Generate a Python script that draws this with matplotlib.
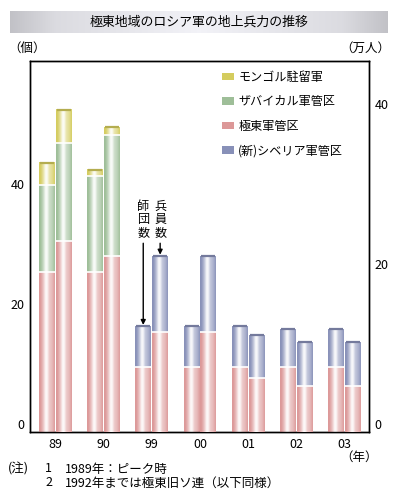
import numpy as np
import matplotlib
matplotlib.use("Agg")
import matplotlib.pyplot as plt
import matplotlib.colors as mcolors
from matplotlib.patches import Patch
from matplotlib.transforms import ScaledTranslation, blended_transform_factory

plt.rcParams['font.family'] = ['Noto Sans CJK JP', 'DejaVu Sans']

# data
years = ['89', '90', '99', '00', '01', '02', '03']
# divisions (個), left axis
div_far_east = [26.6, 26.6, 10.9, 10.9, 10.9, 10.9, 10.9]
div_zabaikal = [14.5, 16.0, 0, 0, 0, 0, 0]
div_siberia = [0, 0, 6.7, 6.7, 6.7, 6.3, 6.3]
div_mongol = [3.7, 1.1, 0, 0, 0, 0, 0]
# troops (万人), right axis
tr_far_east = [23.9, 22.0, 12.5, 12.5, 6.8, 5.8, 5.8]
tr_zabaikal = [12.2, 15.1, 0, 0, 0, 0, 0]
tr_siberia = [0, 0, 9.5, 9.5, 5.3, 5.4, 5.4]
tr_mongol = [4.2, 1.0, 0, 0, 0, 0, 0]

labels = ['モンゴル駐留軍', 'ザバイカル軍管区', '極東軍管区', '(新)シベリア軍管区']
c_mongol = '#d4cc5e'
c_zabaikal = '#9ebe98'
c_far_east = '#dc9898'
c_siberia = '#8890b8'

W = 0.33   # bar width
x = np.arange(len(years))


def shade(color):
    # horizontal cylinder-like shading: dark edges, white-ish centre
    rgb = np.array(mcolors.to_rgb(color))
    t = np.linspace(0, 1, 32)
    mix = np.interp(t, [0, 0.1, 0.25, 0.42, 0.52, 0.65, 0.85, 1.0],
                    [0.0, 0.05, 0.4, 0.95, 0.9, 0.5, 0.3, 0.05])
    img = rgb[None, :] * (1 - mix[:, None]) + mix[:, None]
    return img[None, :, :]


def stack(axis, xpos, series, colors):
    bottom = np.zeros(len(xpos))
    for vals, col in zip(series, colors):
        vals = np.array(vals, dtype=float)
        bars = axis.bar(xpos, vals, width=W, bottom=bottom, color=col, linewidth=0, zorder=2)
        for b, h in zip(bars, vals):
            if h <= 0:
                continue
            x0, y0 = b.get_x(), b.get_y()
            axis.imshow(shade(col), extent=(x0, x0 + b.get_width(), y0, y0 + h),
                        aspect='auto', interpolation='bilinear', zorder=3)
            if y0 > 0:
                axis.hlines(y0, x0, x0 + b.get_width(), color='white', lw=1.2, zorder=4)
        bottom = bottom + vals
    # darker cap line on top of each column
    top_col = []
    for i in range(len(xpos)):
        c = colors[0]
        for vals, col in zip(series, colors):
            if vals[i] > 0:
                c = col
        top_col.append(c)
    for xi, top, c in zip(xpos, bottom, top_col):
        dark = np.array(mcolors.to_rgb(c)) * 0.85
        axis.hlines(top, xi - W / 2 + 0.02, xi + W / 2 - 0.02, color=dark, lw=1.6, zorder=5)
    return bottom


fig = plt.figure(figsize=(3.99, 5.0), dpi=100)
ax = fig.add_axes([30 / 399, 1 - 432 / 500, 339 / 399, 371 / 500])
ax2 = ax.twinx()

order_colors = [c_far_east, c_zabaikal, c_siberia, c_mongol]
div_top = stack(ax, x - W / 2 - 0.01, [div_far_east, div_zabaikal, div_siberia, div_mongol], order_colors)
tr_top = stack(ax2, x + W / 2 + 0.01, [tr_far_east, tr_zabaikal, tr_siberia, tr_mongol], order_colors)

ax.set_xlim(-0.52, 6.5)
ax.set_ylim(0, 61.8)
ax2.set_ylim(0, 46.4)

ax.set_xticks(x)
ax.set_xticklabels(years, fontsize=9)
ax.set_yticks([0, 20, 40])
ax.set_yticklabels(['0', '20', '40'], fontsize=9)
ax2.set_yticks([0, 20, 40])
ax2.set_yticklabels(['0', '20', '40'], fontsize=9)
ax.tick_params(axis='both', length=0, pad=4)
ax2.tick_params(axis='y', length=0, pad=4)
up = ScaledTranslation(0, 6 / 72, fig.dpi_scale_trans)
for lab in ax.get_yticklabels() + ax2.get_yticklabels():
    lab.set_transform(lab.get_transform() + up)
for sp in list(ax.spines.values()) + list(ax2.spines.values()):
    sp.set_linewidth(1.0)
    sp.set_color('black')

# legend
handles = [Patch(facecolor=c) for c in [c_mongol, c_zabaikal, c_far_east, c_siberia]]
ax2.legend(handles, labels, loc='upper left', bbox_to_anchor=(0.545, 0.993), frameon=False,
           fontsize=8.7, handlelength=1.0, handleheight=0.55, handletextpad=0.35,
           labelspacing=0.95, borderaxespad=0.2)

# arrows to the 99 bars
blend = blended_transform_factory(ax.transData, ax.transAxes)
ax.annotate('師\n団\n数', xy=(x[2] - W / 2 - 0.01, div_top[2]), xycoords='data',
            xytext=(x[2] - W / 2 - 0.01, 0.52), textcoords=blend,
            ha='center', va='bottom', fontsize=8.7, linespacing=1.0,
            arrowprops=dict(arrowstyle='-|>', color='black', lw=1.0, mutation_scale=7,
                            shrinkA=1, shrinkB=1))
blend2 = blended_transform_factory(ax2.transData, ax2.transAxes)
ax2.annotate('兵\n員\n数', xy=(x[2] + W / 2 + 0.01, tr_top[2]), xycoords='data',
             xytext=(x[2] + W / 2 + 0.01, 0.52), textcoords=blend2,
             ha='center', va='bottom', fontsize=8.7, linespacing=1.0,
             arrowprops=dict(arrowstyle='-|>', color='black', lw=1.0, mutation_scale=7,
                             shrinkA=1, shrinkB=1))

# title band
tax = fig.add_axes([10 / 399, 1 - 33 / 500, 378 / 399, 22 / 500])
g = np.interp(np.linspace(0, 1, 200), [0, 0.12, 0.5, 0.88, 1.0], [0.76, 0.86, 0.95, 0.86, 0.76])
band = np.stack([g, g, g + 0.02], axis=-1).clip(0, 1)[None, :, :]
tax.imshow(band, aspect='auto', extent=(0, 1, 0, 1))
tax.set_axis_off()
tax.text(0.5, 0.5, '極東地域のロシア軍の地上兵力の推移', ha='center', va='center',
         fontsize=9.3, transform=tax.transAxes)

# unit labels and notes
fig.text(27 / 399, 1 - 48 / 500, '（個）', ha='center', va='center', fontsize=9)
fig.text(365 / 399, 1 - 48 / 500, '（万人）', ha='center', va='center', fontsize=9)
fig.text(359 / 399, 1 - 457 / 500, '（年）', ha='center', va='center', fontsize=9)
fig.text(8 / 399, 1 - 469 / 500, '(注)', ha='left', va='center', fontsize=9)
fig.text(45 / 399, 1 - 469 / 500, '1', ha='left', va='center', fontsize=9)
fig.text(65 / 399, 1 - 469 / 500, '1989年：ピーク時', ha='left', va='center', fontsize=9)
fig.text(45 / 399, 1 - 483 / 500, '2', ha='left', va='center', fontsize=9)
fig.text(65 / 399, 1 - 483 / 500, '1992年までは極東旧ソ連（以下同様）', ha='left', va='center', fontsize=9)

fig.savefig('out.png', dpi=100)
